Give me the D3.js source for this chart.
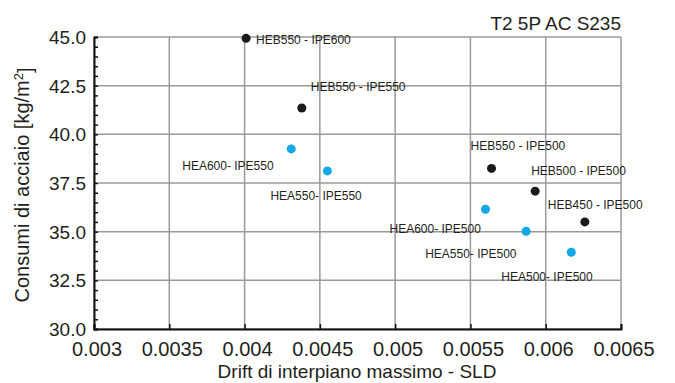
<!DOCTYPE html>
<html lang="it">
<head>
	<meta charset="UTF-8">
	<title>T2 5P AC S235</title>
	<style>
		body{margin:0;background:#fff;}
		svg text{font-family:"Liberation Sans",Arial,sans-serif;fill:#231f20;}
		.grid line{stroke:#9a9a9a;stroke-width:1.5px;}
		.lbl{font-size:12px;}
	</style>
</head>
<body>
<script src="https://d3js.org/d3.v7.min.js"></script>
<script>
	// data
	var hebLabels = ['HEB550 - IPE600','HEB550 - IPE550','HEB550 - IPE500','HEB500 - IPE500','HEB450 - IPE500'];
	var hebDrift  = [0.00401, 0.00438, 0.00564, 0.00593, 0.00626];
	var hebSteel  = [44.93, 41.35, 38.25, 37.08, 35.5];

	var heaLabels = ['HEA600- IPE550','HEA550- IPE550','HEA600- IPE500','HEA550- IPE500','HEA500- IPE500'];
	var heaDrift  = [0.00431, 0.00455, 0.0056, 0.00587, 0.00617];
	var heaSteel  = [39.25, 38.12, 36.15, 35.02, 33.94];

	var xTicks = [0.003, 0.0035, 0.004, 0.0045, 0.005, 0.0055, 0.006, 0.0065];
	var xTickLabels = ['0.003','0.0035','0.004','0.0045','0.005','0.0055','0.006','0.0065'];
	var yTicks = [30, 32.5, 35, 37.5, 40, 42.5, 45];

	// where each label sits relative to its dot (text start, text middle)
	var hebLabelOff = [[10,1],[9,-21],[-21,-23],[-4,-20],[-37,-17]];
	var heaLabelOff = [[-109,17],[-57,25],[-96,19],[-101,22],[-70,24]];

	var W = 675, H = 383;
	var m = {left:94, right:54, top:37, bottom:54};

	var svg = d3.select('body').append('svg')
		.attr('width', W)
		.attr('height', H);

	var x = d3.scaleLinear().domain([0.003, 0.0065]).range([m.left, W - m.right]);
	var y = d3.scaleLinear().domain([30, 45]).range([H - m.bottom, m.top]);

	// grid
	var grid = svg.append('g').attr('class','grid');
	grid.selectAll('.vx').data(xTicks).enter().append('line')
		.attr('x1', d => x(d)).attr('x2', d => x(d))
		.attr('y1', y(30)).attr('y2', y(45));
	grid.selectAll('.hy').data(yTicks).enter().append('line')
		.attr('x1', x(0.003)).attr('x2', x(0.0065))
		.attr('y1', d => y(d)).attr('y2', d => y(d));

	// y axis (black, minor ticks pointing inside)
	var yAxis = d3.axisRight(y).tickValues(d3.range(30, 45.01, 0.5)).tickSize(4).tickFormat('');
	svg.append('g')
		.attr('transform','translate(' + x(0.003) + ',0)')
		.call(yAxis)
		.call(g => g.selectAll('line').attr('stroke','#111').attr('stroke-width',1.5))
		.call(g => g.select('.domain').attr('stroke','#111').attr('stroke-width',2));

	svg.append('g').selectAll('text').data(yTicks).enter().append('text')
		.attr('x', x(0.003) - 8)
		.attr('y', d => y(d))
		.attr('dy','0.36em')
		.attr('text-anchor','end')
		.style('font-size','19px')
		.text(d => d.toFixed(1));

	// x axis
	var xAxis = d3.axisTop(x).tickValues(xTicks).tickSize(5).tickFormat('');
	svg.append('g')
		.attr('transform','translate(0,' + y(30) + ')')
		.call(xAxis)
		.call(g => g.selectAll('line').attr('stroke','#111').attr('stroke-width',1.5))
		.call(g => g.select('.domain').attr('stroke','#111').attr('stroke-width',2));

	svg.append('g').selectAll('text').data(xTicks).enter().append('text')
		.attr('x', d => x(d) + 3)
		.attr('y', y(30) + 27)
		.attr('text-anchor','middle')
		.style('font-size','20px')
		.text((d,i) => xTickLabels[i]);

	// titles
	svg.append('text')
		.attr('x', x(0.0065)).attr('y', 30)
		.attr('text-anchor','end')
		.style('font-size','19px')
		.text('T2 5P AC S235');

	svg.append('text')
		.attr('x', 357).attr('y', 378)
		.attr('text-anchor','middle')
		.style('font-size','19px')
		.text('Drift di interpiano massimo - SLD');

	var yt = svg.append('text')
		.attr('transform','translate(29,' + ((y(30) + y(45)) / 2 + 2) + ') rotate(-90)')
		.attr('text-anchor','middle')
		.style('font-size','20px');
	yt.append('tspan').text('Consumi di acciaio [kg/m');
	yt.append('tspan').attr('dy','-0.45em').style('font-size','13px').text('2');
	yt.append('tspan').attr('dy','0.45em').text(']');

	// points
	function series(labels, xs, ys, offs, color){
		var g = svg.append('g');
		var pts = labels.map((l,i) => ({label:l, x:xs[i], y:ys[i], off:offs[i]}));
		g.selectAll('circle').data(pts).enter().append('circle')
			.attr('cx', d => x(d.x))
			.attr('cy', d => y(d.y))
			.attr('r', 4.5)
			.attr('fill', color);
		g.selectAll('text').data(pts).enter().append('text')
			.attr('class','lbl')
			.attr('x', d => x(d.x) + d.off[0])
			.attr('y', d => y(d.y) + d.off[1])
			.attr('dy','0.36em')
			.text(d => d.label);
	}
	series(hebLabels, hebDrift, hebSteel, hebLabelOff, '#1a1a1a');
	series(heaLabels, heaDrift, heaSteel, heaLabelOff, '#12a8e6');
</script>
</body>
</html>
